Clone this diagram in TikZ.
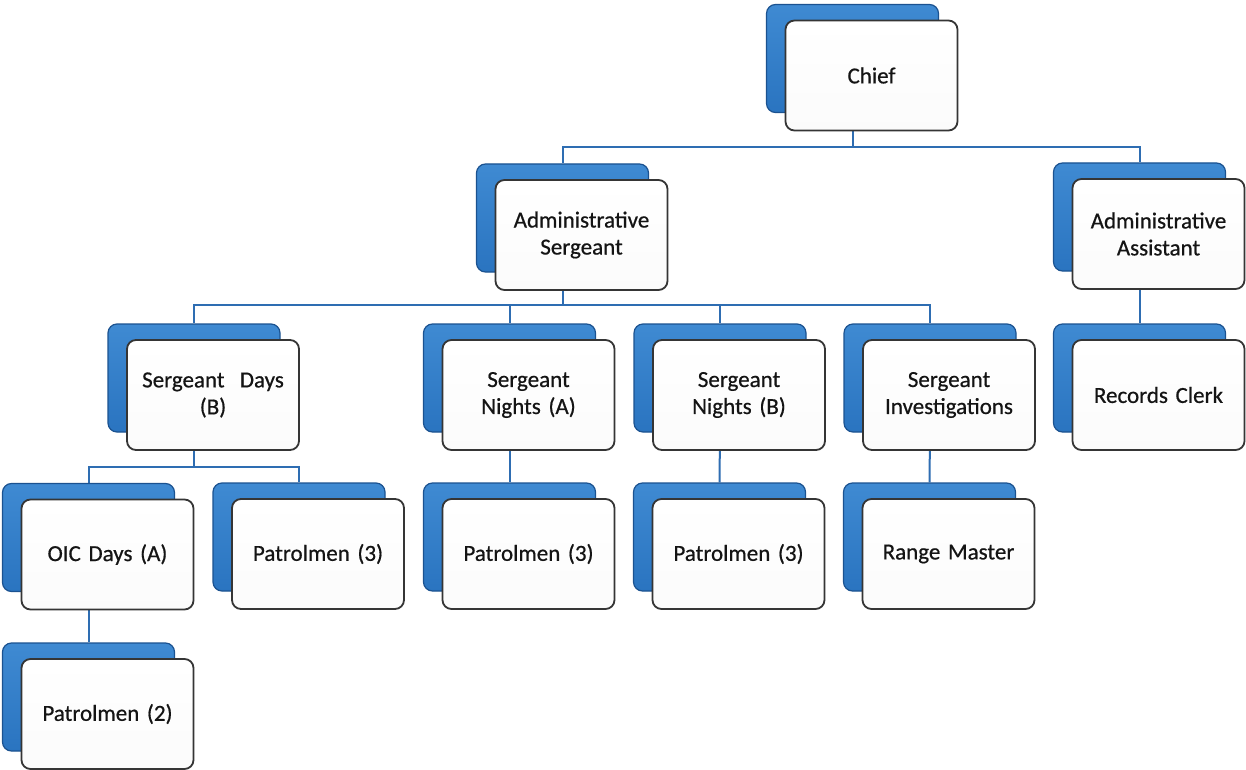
\documentclass[tikz,border=0pt]{standalone}
\usepackage{fontspec}
\setmainfont{Carlito}
\newfontfamily\labelfont{Carlito}[FakeBold=0.6]
\usetikzlibrary{backgrounds}
\definecolor{boxblue}{HTML}{2A74C0}
\definecolor{boxblueTop}{HTML}{3F8AD2}
\definecolor{boxblueEdge}{HTML}{1B5290}
\definecolor{connblue}{HTML}{2E6DB2}
\definecolor{frameGray}{HTML}{353535}
\definecolor{txt}{HTML}{141414}
\tikzset{
  backbox/.style={draw=boxblueEdge, line width=1.2pt, rounded corners=9pt,
    top color=boxblueTop, bottom color=boxblue,
    minimum width=172pt, minimum height=108pt, inner sep=0pt},
  frontbox/.style={draw=frameGray, line width=1.8pt, rounded corners=9pt,
    top color=white, bottom color=white!97!gray,
    minimum width=172pt, minimum height=110pt, inner sep=0pt,
    text width=166pt, align=center, text=txt,
    font=\labelfont\fontsize{23}{27}\selectfont},
  conn/.style={draw=connblue, line width=2pt}
}
\newcommand\orgpair[4]{%
  \node[backbox] (#1b) at (#2-19,#3-17) {};
  \node[frontbox] (#1) at (#2,#3) {#4};
}
\begin{document}
\begin{tikzpicture}[x=1pt,y=-1pt]
\useasboundingbox (0,0) rectangle (1246,770);
% row 0
\orgpair{chief}{871.5}{75.5}{Chief}
% row 1
\orgpair{asgt}{581.5}{235}{Administrative\\Sergeant}
\orgpair{aasst}{1158.5}{234}{Administrative\\Assistant}
% row 2
\orgpair{days}{213}{395}{Sergeant\ \ Days\\(B)}
\orgpair{nighta}{528.5}{395}{Sergeant\\Nights (A)}
\orgpair{nightb}{739}{395}{Sergeant\\Nights (B)}
\orgpair{invest}{949}{395}{Sergeant\\Investigations}
\orgpair{records}{1158.5}{395}{Records Clerk}
% row 3
\orgpair{oic}{107.5}{554.5}{OIC Days (A)}
\orgpair{patA}{318}{554}{Patrolmen (3)}
\orgpair{patB}{528.5}{554}{Patrolmen (3)}
\orgpair{patC}{738.5}{554}{Patrolmen (3)}
\orgpair{range}{948.5}{554}{Range Master}
% row 4
\orgpair{patD}{107.5}{714}{Patrolmen (2)}
% buses
\coordinate (bus1) at (0,147);
\coordinate (bus2) at (0,305);
\coordinate (bus3) at (0,467);
\begin{scope}[on background layer]
\fill[white] (0,0) rectangle (1246,770);
\draw[conn] (chiefb.south) -- (chiefb.south |- bus1) -| (asgtb.north);
\draw[conn] (chiefb.south |- bus1) -| (aasstb.north);
\draw[conn] (aasstb.south) -- (recordsb.north);
\draw[conn] (asgtb.south) -- (asgtb.south |- bus2) -| (daysb.north);
\draw[conn] (asgtb.south |- bus2) -| (investb.north);
\draw[conn] (nightab.north |- bus2) -- (nightab.north);
\draw[conn] (nightbb.north |- bus2) -- (nightbb.north);
\draw[conn] (daysb.south) -- (daysb.south |- bus3) -| (oicb.north);
\draw[conn] (daysb.south |- bus3) -| (patAb.north);
\draw[conn] (nightab.south) -- (patBb.north);
\draw[conn] (nightbb.south) -- (patCb.north);
\draw[conn] (investb.south) -- (rangeb.north);
\draw[conn] (oicb.south) -- (patDb.north);
\end{scope}
\end{tikzpicture}
\end{document}
